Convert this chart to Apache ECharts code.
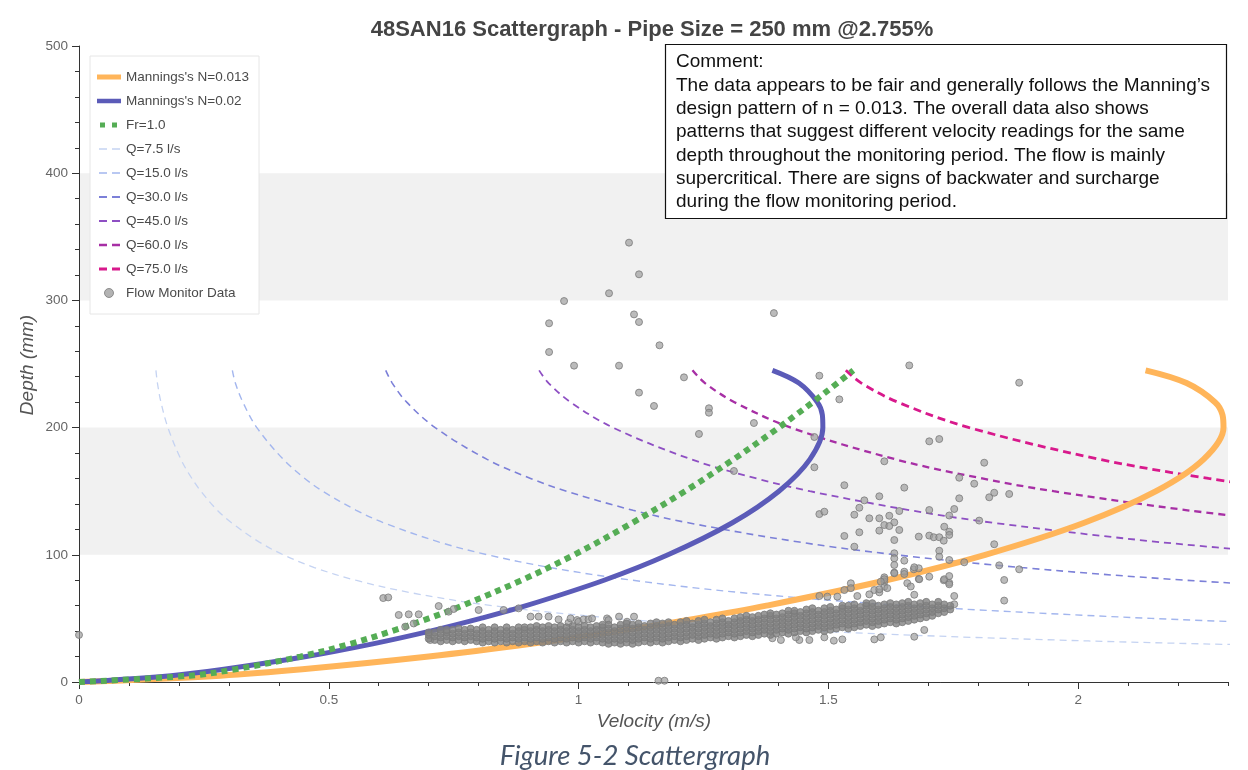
<!DOCTYPE html>
<html>
<head>
<meta charset="utf-8">
<title>48SAN16 Scattergraph</title>
<script src="https://cdn.jsdelivr.net/npm/echarts@6/dist/echarts.min.js"></script>
<style>
  html, body { margin: 0; padding: 0; background: #ffffff; }
  #chart { width: 1248px; height: 770px; }
</style>
</head>
<body>
<div id="chart"></div>
<script>
// ---- axis ticks ----
const velocityTicks = [0, 0.5, 1, 1.5, 2];
const depthTicks = [0, 100, 200, 300, 400, 500];

// ---- design curves (depth in mm, velocity in m/s) ----
const curveDepth = [0, 5, 10, 20, 30, 40, 50, 60, 80, 100, 125, 150, 175, 200, 210, 220, 235, 245];
const manningN013Velocity = [0, 0.283, 0.447, 0.700, 0.905, 1.081, 1.237, 1.376, 1.616, 1.814, 2.011, 2.156, 2.251, 2.291, 2.289, 2.274, 2.217, 2.135];
const manningN020Velocity = [0, 0.184, 0.290, 0.455, 0.588, 0.703, 0.804, 0.895, 1.051, 1.179, 1.307, 1.401, 1.463, 1.489, 1.488, 1.478, 1.441, 1.388];
const froudeVelocity = [0, 0.222, 0.313, 0.443, 0.543, 0.626, 0.700, 0.767, 0.886, 0.991, 1.107, 1.213, 1.310, 1.401, 1.435, 1.469, 1.518, 1.550];

// constant-flow lines, depths from the crown downwards
const flowDepth = [245, 235, 220, 200, 175, 160, 150, 135, 125, 110, 100, 90, 80, 70, 60, 50, 45, 40, 35, 30, 25];
const q7Velocity = [0.154, 0.157, 0.164, 0.178, 0.204, 0.226, 0.244, 0.277, 0.306, 0.361, 0.409, 0.471, 0.554, 0.667, 0.828, 1.073, 1.248, 1.479, 1.796, 2.247, 2.936];
const q15Velocity = [0.307, 0.313, 0.328, 0.356, 0.409, 0.452, 0.488, 0.555, 0.611, 0.721, 0.818, 0.943, 1.108, 1.333, 1.656, 2.146, 2.497];
const q30Velocity = [0.614, 0.627, 0.656, 0.713, 0.817, 0.904, 0.976, 1.109, 1.222, 1.442, 1.636, 1.886, 2.216, 2.666];
const q45Velocity = [0.921, 0.940, 0.984, 1.069, 1.226, 1.356, 1.463, 1.664, 1.833, 2.163, 2.454];
const q60Velocity = [1.228, 1.253, 1.312, 1.425, 1.635, 1.808, 1.951, 2.219, 2.445];
const q75Velocity = [1.535, 1.566, 1.639, 1.782, 2.044, 2.261, 2.439];

// ---- flow monitor readings ----
// main body of readings: [velocity, [depths...]]
const monitorBand = [
  [0.700,[34,37,39]],[0.712,[33,36,39]],[0.724,[32,35,38,41]],[0.736,[33,36,39,41]],[0.748,[32,35,38,41]],
  [0.760,[33,36,39,42]],[0.772,[32,35,38,41]],[0.784,[33,36,39,42]],[0.796,[32,35,38,41]],[0.808,[31,34,37,40,43]],
  [0.820,[32,35,38,41]],[0.832,[31,34,37,40,43]],[0.844,[32,35,38,41]],[0.856,[31,34,37,40,43]],[0.868,[32,35,38,41]],
  [0.880,[31,34,37,40,43]],[0.892,[32,35,38,41,43]],[0.904,[31,34,37,40,43]],[0.916,[32,35,38,41,44]],[0.928,[31,34,37,40,43]],
  [0.940,[32,35,38,41,44]],[0.952,[31,34,37,40,43]],[0.964,[32,35,38,41,44]],[0.976,[31,34,37,40,43]],[0.988,[32,35,38,41,44]],
  [1.000,[31,34,37,40,43]],[1.012,[32,35,38,41,44]],[1.024,[31,34,37,40,43]],[1.036,[32,35,38,41,44]],[1.048,[31,34,37,40,43,45]],
  [1.060,[30,33,36,39,42,45]],[1.072,[31,34,37,40,43]],[1.084,[30,33,36,39,42,45]],[1.096,[31,34,37,40,43,46]],[1.108,[30,33,36,39,42,45]],
  [1.120,[31,34,37,40,43,46]],[1.132,[32,35,38,41,44]],[1.144,[31,34,37,40,43,46]],[1.156,[32,35,38,41,44,47]],[1.168,[31,34,37,40,43,46]],
  [1.180,[32,35,38,41,44,47]],[1.192,[33,36,39,42,45]],[1.204,[32,35,38,41,44,47]],[1.216,[33,36,39,42,45,48]],[1.228,[34,37,40,43,46]],
  [1.240,[33,36,39,42,45,48]],[1.252,[34,37,40,43,46,49]],[1.264,[35,38,41,44,47]],[1.276,[34,37,40,43,46,49]],[1.288,[35,38,41,44,47,50]],
  [1.300,[36,39,42,45,48]],[1.312,[35,38,41,44,47,50]],[1.324,[36,39,42,45,48,51]],[1.336,[37,40,43,46,49,52]],[1.348,[36,39,42,45,48,51]],
  [1.360,[37,40,43,46,49,52]],[1.372,[38,41,44,47,50,53]],[1.384,[37,40,43,46,49,52,54]],[1.396,[38,41,44,47,50,53]],[1.408,[39,42,45,48,51,54]],
  [1.420,[38,41,44,47,50,53,56]],[1.432,[39,42,45,48,51,54,56]],[1.444,[40,43,46,49,52,55]],[1.456,[39,42,45,48,51,54,57]],[1.468,[40,43,46,49,52,55,58]],
  [1.480,[41,44,47,50,53,56]],[1.492,[40,43,46,49,52,55,58]],[1.504,[41,44,47,50,53,56,59]],[1.516,[42,45,48,51,54,57]],[1.528,[43,46,49,52,55,58,60]],
  [1.540,[42,45,48,51,54,57,60]],[1.552,[43,46,49,52,55,58,61]],[1.564,[44,47,50,53,56,59]],[1.576,[45,48,51,54,57,60,62]],[1.588,[44,47,50,53,56,59,62]],
  [1.600,[45,48,51,54,57,60]],[1.612,[46,49,52,55,58,61]],[1.624,[47,50,53,56,59,62]],[1.636,[46,49,52,55,58,61]],[1.648,[47,50,53,56,59,62]],
  [1.660,[48,51,54,57,60,63]],[1.672,[49,52,55,58,61]],[1.684,[50,53,56,59,62]],[1.696,[51,54,57,60,63]],[1.708,[52,55,58,61]],
  [1.720,[54,57,60,63]],[1.732,[55,58,61]],[1.744,[57,60]]
];
// scattered readings: [velocity, depth]
const monitorScatter = [
  [0.000,37],[0.609,66],[0.619,66.5],[0.640,52.7],[0.660,53.2],[0.680,53.2],[0.653,43.5],[0.670,46],
  [0.703,33],[0.720,59.7],[0.740,55.3],[0.750,57.4],[0.800,56.6],[0.850,56.6],[0.880,57.9],[0.904,51.4],
  [0.920,51.4],[0.940,51.4],[0.960,49.2],[0.980,46.6],[0.984,50],[0.997,48.7],[1.000,47.4],[1.010,49.2],
  [1.020,49.2],[1.027,50],[1.057,50],[1.060,48.7],[1.081,51.4],[1.097,47.4],[1.111,51.4],[1.160,1],[1.172,1],
  [1.101,345.4],[1.121,320.5],[1.061,305.6],[0.971,299.5],[0.941,282],[1.111,289],[1.121,283],[1.162,264.7],
  [0.941,259.4],[0.991,248.7],[1.081,248.7],[1.211,239.5],[1.121,227.5],[1.151,217],[1.261,215.2],[1.261,211.7],
  [1.241,195],[1.351,203.6],[1.391,290],[1.482,240.8],[1.522,222.2],[1.472,192.6],[1.472,168.8],[1.311,165.9],
  [1.662,248.9],[1.882,235.3],[1.612,173.5],[1.702,189.2],[1.722,191],[1.812,172.4],[1.652,152.8],[1.532,154.7],
  [1.762,160.6],[1.792,155.9],[1.602,146],[1.572,142.8],[1.562,137],[1.552,131.5],[1.482,132],[1.492,133.9],
  [1.582,128.7],[1.602,128.7],[1.622,130.7],[1.642,134.4],[1.632,125.5],[1.612,123.4],[1.622,122.6],[1.602,119],
  [1.642,119.5],[1.702,135.2],[1.532,114.8],[1.562,117.7],[1.632,111.6],[1.681,114.3],[1.702,115.1],[1.711,113.8],
  [1.722,113.8],[1.731,111.1],[1.552,106.4],[1.632,101.2],[1.632,97.2],[1.632,92],[1.652,95.4],[1.632,86],
  [1.652,86.7],[1.671,88.6],[1.681,89.4],[1.612,82.3],[1.612,78.9],[1.612,74.9],[1.592,72.3],[1.602,70.5],
  [1.652,84.9],[1.681,81],[1.702,82.8],[1.722,103.2],[1.722,98.5],[1.732,122.1],[1.742,118.2],[1.742,115.6],
  [1.731,80],[1.742,78],[1.482,67.6],[1.822,145.2],[1.832,148.8],[1.862,147.8],[1.762,144.4],[1.752,136],
  [1.742,130.9],[1.802,126.9],[1.832,108.3],[1.742,95.9],[1.772,94.1],[1.842,91.7],[1.852,80.2],[1.882,88.6],
  [1.852,64],[1.752,67.6],[1.752,61.1],[1.692,40.9],[1.672,35.6],[1.592,33.5],[1.511,32.5],[1.442,33],
  [1.462,33],[1.492,35.1],[1.388,34.4],[1.405,33],[1.435,35.1],[1.528,33.5],[1.605,35.1],[1.558,67.6],
  [1.582,68.9],[1.602,72.9],[1.612,80.8],[1.632,85.5],[1.672,90.2],[1.682,80.8],[1.732,80.8],[1.742,83.3],
  [1.742,76.8],[1.545,77.6],[1.545,73.8],[1.532,72.3],[1.518,67.1],[1.498,67.1],[1.605,78.9],[1.618,73.8],
  [1.658,77.7],[1.665,75.1],[1.672,68.6]
];

// ---- build series data ----
function pairs(velocity, depth) {
  return velocity.map((v, i) => [v, depth[i]]);
}
const bandPoints = [];
monitorBand.forEach(([v, depths]) => depths.forEach(d => bandPoints.push([v, d])));

const FONT = '"Liberation Sans", Arial, sans-serif';

function curveSeries(name, data, color, width, type, z) {
  return {
    name: name,
    type: 'line',
    data: data,
    smooth: 0.35,
    symbol: 'none',
    showSymbol: false,
    clip: true,
    silent: true,
    z: z,
    lineStyle: { color: color, width: width, type: type, cap: 'butt' },
    itemStyle: { color: color }
  };
}

// legend glyphs drawn in a 24 x 9 box
const solidIcon = h => 'path://M0 0H24ZM0 9H24ZM0 ' + (4.5 - h / 2) + 'H24V' + (4.5 + h / 2) + 'H0Z';
const dashIcon = h => 'path://M0 0H24ZM0 9H24ZM2 ' + (4.5 - h / 2) + 'H10V' + (4.5 + h / 2) + 'H2ZM15 ' + (4.5 - h / 2) + 'H23V' + (4.5 + h / 2) + 'H15Z';
const dotIcon = 'path://M0 0H24ZM0 9H24ZM3 2H8V7H3ZM15 2H20V7H15Z';

const chart = echarts.init(document.getElementById('chart'), null, { renderer: 'canvas' });

const option = {
  animation: false,
  backgroundColor: '#ffffff',
  grid: { left: 79, right: 20, top: 46, bottom: 88, containLabel: false },
  xAxis: [
    {
      type: 'value', min: 0, max: 2.3, interval: 0.1,
      axisLine: { show: true, lineStyle: { color: '#333', width: 1 } },
      axisTick: { show: true, length: 4, lineStyle: { color: '#333' } },
      axisLabel: { customValues: velocityTicks, color: '#666', fontSize: 13.5, margin: 11, fontFamily: FONT },
      splitLine: { show: false }
    },
    {
      type: 'value', min: 0, max: 2.3, position: 'bottom',
      axisLine: { show: false },
      axisTick: { show: true, customValues: velocityTicks, length: 7, lineStyle: { color: '#333' } },
      axisLabel: { show: false },
      splitLine: { show: false }
    }
  ],
  yAxis: {
    type: 'value', min: depthTicks[0], max: depthTicks[depthTicks.length - 1], interval: 100,
    axisLine: { show: true, lineStyle: { color: '#333', width: 1 } },
    axisTick: { show: true, length: 7, lineStyle: { color: '#333' } },
    minorTick: { show: true, splitNumber: 5, length: 4, lineStyle: { color: '#333' } },
    axisLabel: { color: '#666', fontSize: 13.5, margin: 11, fontFamily: FONT },
    splitLine: { show: false },
    splitArea: { show: true, areaStyle: { color: ['rgba(255,255,255,0)', '#f1f1f1'] } }
  },
  legend: {
    orient: 'vertical', left: 90, top: 56,
    padding: [14, 10, 14, 7],
    itemWidth: 24, itemHeight: 9, itemGap: 10,
    backgroundColor: '#ffffff', borderColor: '#e6e6e6', borderWidth: 1,
    textStyle: { fontSize: 13.5, color: '#4a4a4a', fontFamily: FONT },
    itemStyle: { borderWidth: 0 },
    data: [
      { name: "Mannings's N=0.013", icon: solidIcon(5) },
      { name: "Mannings's N=0.02", icon: solidIcon(4.5) },
      { name: 'Fr=1.0', icon: dotIcon },
      { name: 'Q=7.5 l/s', icon: dashIcon(1.5) },
      { name: 'Q=15.0 l/s', icon: dashIcon(1.5) },
      { name: 'Q=30.0 l/s', icon: dashIcon(1.8) },
      { name: 'Q=45.0 l/s', icon: dashIcon(2) },
      { name: 'Q=60.0 l/s', icon: dashIcon(2.4) },
      { name: 'Q=75.0 l/s', icon: dashIcon(2.8) },
      { name: 'Flow Monitor Data', icon: 'circle', itemStyle: { color: '#a0a0a0', borderWidth: 1, borderColor: '#7a7a7a' } }
    ]
  },
  graphic: [
    {
      type: 'text', x: 652, y: 30, z: 100,
      style: {
        text: '48SAN16 Scattergraph - Pipe Size = 250 mm @2.755%',
        font: 'bold 22px ' + FONT, fill: '#444', align: 'center', verticalAlign: 'middle'
      }
    },
    {
      // axis titles
      type: 'text', x: 654, y: 722, z: 100,
      style: {
        text: 'Velocity (m/s)',
        font: 'italic 19px ' + FONT, fill: '#555', align: 'center', verticalAlign: 'middle'
      }
    },
    {
      type: 'text', x: 28, y: 365, rotation: Math.PI / 2, z: 100,
      style: {
        text: 'Depth (mm)',
        font: 'italic 19px ' + FONT, fill: '#555', align: 'center', verticalAlign: 'middle'
      }
    },
    {
      type: 'rect', z: 100,
      shape: { x: 665.5, y: 44.5, width: 561, height: 174 },
      style: { fill: '#ffffff', stroke: '#111', lineWidth: 1.2 }
    },
    {
      type: 'text', x: 676, y: 50.5, z: 101,
      style: {
        text: 'Comment:\nThe data appears to be fair and generally follows the Manning\u2019s\ndesign pattern of n = 0.013. The overall data also shows\npatterns that suggest different velocity readings for the same\ndepth throughout the monitoring period. The flow is mainly\nsupercritical. There are signs of backwater and surcharge\nduring the flow monitoring period.',
        font: '19px ' + FONT, fill: '#111', lineHeight: 23.3, align: 'left', verticalAlign: 'top'
      }
    },
    {
      type: 'text', x: 635, y: 756, z: 100,
      style: {
        text: 'Figure 5-2 Scattergraph',
        font: 'italic 27.5px Lato, "Open Sans", sans-serif', fill: '#44546a', align: 'center', verticalAlign: 'middle'
      }
    }
  ],
  series: [
    curveSeries('Q=7.5 l/s', pairs(q7Velocity, flowDepth), '#c5d3f2', 1.3, [7, 5], 2),
    curveSeries('Q=15.0 l/s', pairs(q15Velocity, flowDepth), '#a3b6ee', 1.4, [7, 5], 2),
    curveSeries('Q=30.0 l/s', pairs(q30Velocity, flowDepth), '#7c80d8', 1.6, [7, 5], 2),
    curveSeries('Q=45.0 l/s', pairs(q45Velocity, flowDepth), '#8e4fc3', 1.8, [7, 5], 2),
    curveSeries('Q=60.0 l/s', pairs(q60Velocity, flowDepth), '#a72fa5', 2.3, [7, 5], 2),
    curveSeries('Q=75.0 l/s', pairs(q75Velocity, flowDepth), '#d8198c', 2.8, [8, 5], 2),
    curveSeries("Mannings's N=0.013", pairs(manningN013Velocity, curveDepth), '#ffb55a', 6, 'solid', 3),
    curveSeries("Mannings's N=0.02", pairs(manningN020Velocity, curveDepth), '#5b5bb8', 5, 'solid', 3),
    curveSeries('Fr=1.0', pairs(froudeVelocity, curveDepth), '#55ad55', 6, [6, 5], 4),
    {
      // scattered readings
      name: 'Flow Monitor Data',
      type: 'scatter',
      data: monitorScatter,
      symbol: 'circle',
      symbolSize: 7,
      silent: true,
      z: 5,
      itemStyle: { color: 'rgba(155,155,155,0.85)', borderColor: '#7a7a7a', borderWidth: 1 }
    },
    {
      // dense body of readings
      name: 'Flow Monitor Data',
      type: 'scatter',
      data: bandPoints,
      symbol: 'circle',
      symbolSize: 7,
      silent: true,
      z: 5,
      itemStyle: { color: '#818181', borderColor: '#7a7a7a', borderWidth: 1 }
    }
  ]
};

chart.setOption(option);
</script>
</body>
</html>
